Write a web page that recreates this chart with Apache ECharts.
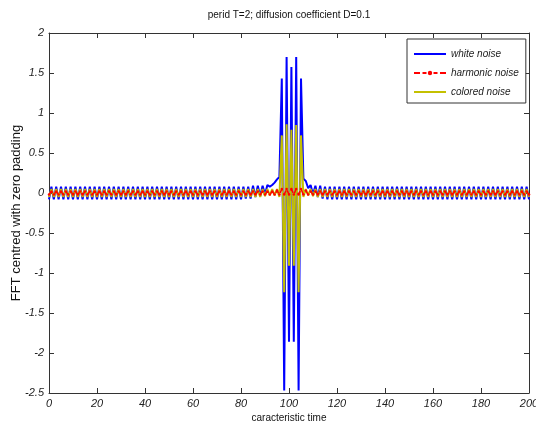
<!DOCTYPE html>
<html>
<head>
<meta charset="utf-8">
<script src="https://cdn.jsdelivr.net/npm/echarts@6/dist/echarts.min.js"></script>
<style>html,body{margin:0;padding:0;background:#fff;}#c{width:536px;height:432px;}</style>
</head>
<body>
<div id="c"></div>
<script>
var titleText = 'perid T=2; diffusion coefficient D=0.1';
var xName = 'caracteristic time';
var yName = 'FFT centred with zero padding';
var seriesNames = ['white noise', 'harmonic noise', 'colored noise'];
var xTicks = [0, 20, 40, 60, 80, 100, 120, 140, 160, 180, 200];
var yTicks = [-2.5, -2, -1.5, -1, -0.5, 0, 0.5, 1, 1.5, 2];

// sample index = characteristic time (0..200)
var whiteNoise = [
-0.08,0.08,-0.08,0.08,-0.08,0.08,-0.08,0.08,-0.08,0.08,
-0.08,0.08,-0.08,0.08,-0.08,0.08,-0.08,0.08,-0.08,0.08,
-0.08,0.08,-0.08,0.08,-0.08,0.08,-0.08,0.08,-0.08,0.08,
-0.08,0.08,-0.08,0.08,-0.08,0.08,-0.08,0.08,-0.08,0.08,
-0.08,0.08,-0.08,0.08,-0.08,0.08,-0.08,0.08,-0.08,0.08,
-0.08,0.08,-0.08,0.08,-0.08,0.08,-0.08,0.08,-0.08,0.08,
-0.08,0.08,-0.08,0.08,-0.08,0.08,-0.08,0.08,-0.08,0.08,
-0.08,0.08,-0.08,0.08,-0.08,0.08,-0.08,0.08,-0.08,0.08,
-0.08,0.08,-0.07,0.08,-0.07,0.09,-0.05,0.09,-0.04,0.09,
-0.02,0.1,0.08,0.1,0.13,0.17,0.2,1.43,-2.47,1.7,
-1.86,1.575,-1.86,1.7,-2.47,1.43,0.18,0.15,0.06,0.1,
-0.02,0.09,-0.05,0.09,-0.07,0.08,-0.08,0.08,-0.08,0.08,
-0.08,0.08,-0.08,0.08,-0.08,0.08,-0.08,0.08,-0.08,0.08,
-0.08,0.08,-0.08,0.08,-0.08,0.08,-0.08,0.08,-0.08,0.08,
-0.08,0.08,-0.08,0.08,-0.08,0.08,-0.08,0.08,-0.08,0.08,
-0.08,0.08,-0.08,0.08,-0.08,0.08,-0.08,0.08,-0.08,0.08,
-0.08,0.08,-0.08,0.08,-0.08,0.08,-0.08,0.08,-0.08,0.08,
-0.08,0.08,-0.08,0.08,-0.08,0.08,-0.08,0.08,-0.08,0.08,
-0.08,0.08,-0.08,0.08,-0.08,0.08,-0.08,0.08,-0.08,0.08,
-0.08,0.08,-0.08,0.08,-0.08,0.08,-0.08,0.08,-0.08,0.08,
-0.08
];
var harmonicNoise = [
-0.02,0.02,-0.02,0.02,-0.02,0.02,-0.02,0.02,-0.02,0.02,
-0.02,0.02,-0.02,0.02,-0.02,0.02,-0.02,0.02,-0.02,0.02,
-0.02,0.02,-0.02,0.02,-0.02,0.02,-0.02,0.02,-0.02,0.02,
-0.02,0.02,-0.02,0.02,-0.02,0.02,-0.02,0.02,-0.02,0.02,
-0.02,0.02,-0.02,0.02,-0.02,0.02,-0.02,0.02,-0.02,0.02,
-0.02,0.02,-0.02,0.02,-0.02,0.02,-0.02,0.02,-0.02,0.02,
-0.02,0.02,-0.02,0.02,-0.02,0.02,-0.02,0.02,-0.02,0.02,
-0.02,0.02,-0.02,0.02,-0.02,0.02,-0.02,0.02,-0.02,0.02,
-0.02,0.02,-0.02,0.02,-0.02,0.02,-0.02,0.02,-0.02,0.02,
-0.02,0.02,-0.02,0.02,-0.02,0.03,-0.02,0.05,-0.02,0.05,
-0.02,0.05,-0.02,0.05,-0.02,0.05,-0.02,0.03,-0.02,0.02,
-0.02,0.02,-0.02,0.02,-0.02,0.02,-0.02,0.02,-0.02,0.02,
-0.02,0.02,-0.02,0.02,-0.02,0.02,-0.02,0.02,-0.02,0.02,
-0.02,0.02,-0.02,0.02,-0.02,0.02,-0.02,0.02,-0.02,0.02,
-0.02,0.02,-0.02,0.02,-0.02,0.02,-0.02,0.02,-0.02,0.02,
-0.02,0.02,-0.02,0.02,-0.02,0.02,-0.02,0.02,-0.02,0.02,
-0.02,0.02,-0.02,0.02,-0.02,0.02,-0.02,0.02,-0.02,0.02,
-0.02,0.02,-0.02,0.02,-0.02,0.02,-0.02,0.02,-0.02,0.02,
-0.02,0.02,-0.02,0.02,-0.02,0.02,-0.02,0.02,-0.02,0.02,
-0.02,0.02,-0.02,0.02,-0.02,0.02,-0.02,0.02,-0.02,0.02,
-0.02
];
var coloredNoise = [
-0.05,0.05,-0.05,0.05,-0.05,0.05,-0.05,0.05,-0.05,0.05,
-0.05,0.05,-0.05,0.05,-0.05,0.05,-0.05,0.05,-0.05,0.05,
-0.05,0.05,-0.05,0.05,-0.05,0.05,-0.05,0.05,-0.05,0.05,
-0.05,0.05,-0.05,0.05,-0.05,0.05,-0.05,0.05,-0.05,0.05,
-0.05,0.05,-0.05,0.05,-0.05,0.05,-0.05,0.05,-0.05,0.05,
-0.05,0.05,-0.05,0.05,-0.05,0.05,-0.05,0.05,-0.05,0.05,
-0.05,0.05,-0.05,0.05,-0.05,0.05,-0.05,0.05,-0.05,0.05,
-0.05,0.05,-0.05,0.05,-0.05,0.05,-0.05,0.05,-0.05,0.05,
-0.05,0.05,-0.05,0.05,-0.05,0.05,-0.05,0.05,-0.05,0.05,
-0.04,0.05,-0.03,0.05,-0.03,0.05,-0.05,0.72,-1.24,0.86,
-0.91,0.79,-0.91,0.85,-1.24,0.72,-0.05,0.05,-0.03,0.05,
-0.04,0.05,-0.05,0.05,-0.05,0.05,-0.05,0.05,-0.05,0.05,
-0.05,0.05,-0.05,0.05,-0.05,0.05,-0.05,0.05,-0.05,0.05,
-0.05,0.05,-0.05,0.05,-0.05,0.05,-0.05,0.05,-0.05,0.05,
-0.05,0.05,-0.05,0.05,-0.05,0.05,-0.05,0.05,-0.05,0.05,
-0.05,0.05,-0.05,0.05,-0.05,0.05,-0.05,0.05,-0.05,0.05,
-0.05,0.05,-0.05,0.05,-0.05,0.05,-0.05,0.05,-0.05,0.05,
-0.05,0.05,-0.05,0.05,-0.05,0.05,-0.05,0.05,-0.05,0.05,
-0.05,0.05,-0.05,0.05,-0.05,0.05,-0.05,0.05,-0.05,0.05,
-0.05,0.05,-0.05,0.05,-0.05,0.05,-0.05,0.05,-0.05,0.05,
-0.05
];

var sans = "'Liberation Sans',Arial,sans-serif";
var axisColor = '#333';

// legend glyphs: solid line, and dashed line with a dot marker
var solidIcon = 'path://M0,-1H32V1H0Z';
var dashDotIcon = 'path://M0,-0.9H6V0.9H0Z M8.5,-0.9H12.5V0.9H8.5Z M19.5,-0.9H23.5V0.9H19.5Z M26,-0.9H32V0.9H26Z M13.8,0A2.2,2.2,0,1,0,18.2,0A2.2,2.2,0,1,0,13.8,0Z';

function pairs(arr) { return arr.map(function (v, i) { return [i, v]; }); }

var chart = echarts.init(document.getElementById('c'), null, {renderer: 'canvas'});

var xBase = {
  type: 'value', min: xTicks[0], max: xTicks[xTicks.length - 1], interval: xTicks[1] - xTicks[0],
  axisLine: {show: true, onZero: false, lineStyle: {color: axisColor, width: 1}},
  axisTick: {show: true, inside: true, length: 5, lineStyle: {color: axisColor}},
  splitLine: {show: false}
};
var yBase = {
  type: 'value', min: yTicks[0], max: yTicks[yTicks.length - 1], interval: yTicks[1] - yTicks[0],
  axisLine: {show: true, onZero: false, lineStyle: {color: axisColor, width: 1}},
  axisTick: {show: true, inside: true, length: 5, lineStyle: {color: axisColor}},
  splitLine: {show: false}
};

var option = {
  animation: false,
  backgroundColor: '#fff',
  grid: {left: 49, right: 7, top: 33, bottom: 39, containLabel: false, outerBoundsMode: 'none'},
  graphic: [{
    type: 'text', x: 289, y: 15,
    style: {text: titleText, fill: '#111', font: '10px ' + sans, textAlign: 'center', textVerticalAlign: 'middle'}
  }],
  legend: {
    data: [
      {name: seriesNames[0], icon: solidIcon},
      {name: seriesNames[1], icon: dashDotIcon},
      {name: seriesNames[2], icon: solidIcon}
    ],
    orient: 'vertical', left: 407, top: 39,
    itemWidth: 32, itemHeight: 12, itemGap: 9, symbolKeepAspect: true,
    padding: [10, 7, 6, 7],
    borderColor: '#333', borderWidth: 1, backgroundColor: '#fff', borderRadius: 0,
    textStyle: {fontFamily: sans, fontStyle: 'italic', fontSize: 10, color: '#222'}
  },
  xAxis: [
    Object.assign({}, xBase, {
      position: 'bottom',
      axisLabel: {show: true, margin: 5, color: '#222', fontFamily: sans, fontStyle: 'italic', fontSize: 11},
      name: xName, nameLocation: 'middle', nameGap: 20, nameMoveOverlap: false,
      nameTextStyle: {color: '#111', fontFamily: sans, fontSize: 10}
    }),
    Object.assign({}, xBase, {position: 'top', axisLabel: {show: false}})
  ],
  yAxis: [
    Object.assign({}, yBase, {
      position: 'left',
      axisLabel: {show: true, margin: 5, color: '#222', fontFamily: sans, fontStyle: 'italic', fontSize: 11},
      name: yName, nameLocation: 'middle', nameGap: 26, nameMoveOverlap: false,
      nameTextStyle: {color: '#111', fontFamily: sans, fontSize: 13}
    }),
    Object.assign({}, yBase, {position: 'right', axisLabel: {show: false}})
  ],
  series: [
    {
      name: seriesNames[0], type: 'line', xAxisIndex: 0, yAxisIndex: 0,
      data: pairs(whiteNoise), symbol: 'none', z: 2,
      lineStyle: {color: '#0000ff', width: 2}, itemStyle: {color: '#0000ff'}
    },
    {
      name: seriesNames[2], type: 'line', xAxisIndex: 0, yAxisIndex: 0,
      data: pairs(coloredNoise), symbol: 'none', z: 3,
      lineStyle: {color: '#c4c000', width: 2}, itemStyle: {color: '#c4c000'}
    },
    {
      name: seriesNames[1], type: 'line', xAxisIndex: 0, yAxisIndex: 0,
      data: pairs(harmonicNoise), symbol: 'circle', symbolSize: 2.5, showSymbol: true, z: 4,
      lineStyle: {color: '#ff0000', width: 1.5, type: 'dashed'}, itemStyle: {color: '#ff0000'}
    }
  ]
};
chart.setOption(option);
</script>
</body>
</html>
